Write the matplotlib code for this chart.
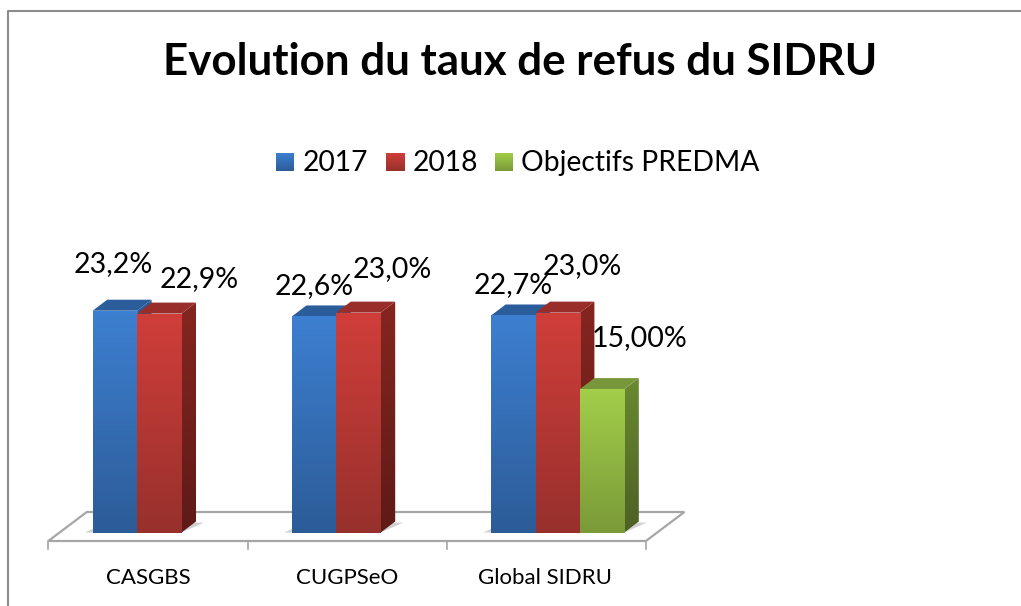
import numpy as np
import matplotlib
matplotlib.use("Agg")
import matplotlib.pyplot as plt
from matplotlib.colors import LinearSegmentedColormap
from matplotlib.patches import Polygon

plt.rcParams["font.family"] = ["Lato", "DejaVu Sans"]

TITLE = "Evolution du taux de refus du SIDRU"
CATEGORIES = ["CASGBS", "CUGPSeO", "Global SIDRU"]
SERIES = ["2017", "2018", "Objectifs PREDMA"]
VALUES_2017 = [23.2, 22.6, 22.7]
VALUES_2018 = [22.9, 23.0, 23.0]
VALUES_OBJ = [None, None, 15.0]
LABELS_2017 = ["23,2%", "22,6%", "22,7%"]
LABELS_2018 = ["22,9%", "23,0%", "23,0%"]
LABELS_OBJ = [None, None, "15,00%"]

# front (top, bottom), side (top, bottom), top face
COLORS = [
    ("#3d7fd0", "#2c5c98", "#2b5d9b"),
    ("#d03e3a", "#97302c", "#992d2a"),
    ("#a2ce4a", "#7a9a38", "#78963a"),
]
SIDES = [("#2b5d9b", "#1f4472"), ("#85261f", "#5e1a18"), ("#6a8a30", "#4c6024")]

W, H = 1021, 606
X0_PX, CAT_PX = 48.3, 199.2   # x axis origin / category width
Y0_PX, UNIT_PX = 532.5, 9.56  # baseline / pixels per percent
BAR_W = 44.4 / CAT_PX
DX, DY = 14.5 / CAT_PX, 11 / UNIT_PX  # 3D depth
GREY = "#a6a6a6"

# data labels were moved by hand in the original, so offsets per label (px)
LABEL_DX = [[-2, 0, 0], [39.5, 34, 25], [None, None, 37.5]]
LABEL_DY = [[46.7, 30.4, 30.5], [34.3, 43.6, 46.6], [None, None, 51]]


def gradient(ax, c_top, c_bot, extent, clip=None, zorder=3):
    cmap = LinearSegmentedColormap.from_list("g", [c_top, c_bot])
    im = ax.imshow(np.linspace(0, 1, 128).reshape(-1, 1), cmap=cmap, aspect="auto",
                   extent=extent, origin="upper", zorder=zorder, interpolation="bilinear")
    if clip is not None:
        im.set_clip_path(clip)
    return im


def bar3d(ax, x, val, idx):
    top, bot, roof = COLORS[idx]
    side_top, side_bot = SIDES[idx]
    z = 3 + idx * 0.1
    # shadow on the floor
    ax.add_patch(Polygon([(x - 0.04, 0), (x + BAR_W, 0), (x + BAR_W + DX + 0.04, DY * 0.9),
                          (x + DX, DY * 0.9)], fc="#d0d0d0", ec="none", zorder=2))
    gradient(ax, top, bot, (x, x + BAR_W, 0, val), zorder=z + 0.02)
    side = Polygon([(x + BAR_W, 0), (x + BAR_W + DX, DY), (x + BAR_W + DX, val + DY),
                    (x + BAR_W, val)], fc="none", ec="none", zorder=z)
    ax.add_patch(side)
    gradient(ax, side_top, side_bot, (x + BAR_W, x + BAR_W + DX, 0, val + DY), clip=side, zorder=z)
    ax.add_patch(Polygon([(x, val), (x + DX, val + DY), (x + BAR_W + DX, val + DY),
                          (x + BAR_W, val)], fc=roof, ec="none", zorder=z + 0.01))


fig = plt.figure(figsize=(W / 100, H / 100), dpi=100)
ax = fig.add_axes([0, 0, 1, 1])
ax.set_axis_off()
xlim = (-X0_PX / CAT_PX, (W - X0_PX) / CAT_PX)
ylim = (-(H - Y0_PX) / UNIT_PX, Y0_PX / UNIT_PX)

# floor
fy, by = -8.5 / UNIT_PX, 20.5 / UNIT_PX
fdx = 38.5 / CAT_PX
ax.add_patch(Polygon([(0, fy), (3, fy), (3 + fdx, by), (fdx, by)], closed=True,
                     fc="white", ec=GREY, lw=1.6, zorder=1))
for i in range(4):
    ax.plot([i, i], [fy, fy - 7.5 / UNIT_PX], color=GREY, lw=1.2, zorder=1)

all_vals = [VALUES_2017, VALUES_2018, VALUES_OBJ]
all_labs = [LABELS_2017, LABELS_2018, LABELS_OBJ]
for s in range(3):
    for c in range(3):
        v = all_vals[s][c]
        if v is None:
            continue
        x = c + BAR_W * (1 + s)
        bar3d(ax, x, v, s)
        ax.text(x + BAR_W / 2 + LABEL_DX[s][c] / CAT_PX, v + LABEL_DY[s][c] / UNIT_PX, all_labs[s][c],
                fontsize=20.5, ha="center", va="center", color="black", zorder=6)

CAT_LABEL_DX = [0, -0.3, -1.5]
for i, name in enumerate(CATEGORIES):
    ax.text(i + 0.5 + CAT_LABEL_DX[i] / CAT_PX, -46 / UNIT_PX, name, fontsize=16,
            ha="center", va="center", color="black")

# chart frame: left and top edges only, the picture is cropped on the others
ax.plot([8 / CAT_PX + xlim[0], 8 / CAT_PX + xlim[0], xlim[1]],
        [ylim[0], ylim[1] - 10.5 / UNIT_PX, ylim[1] - 10.5 / UNIT_PX],
        color="#8c8c8c", lw=1.5, zorder=0)

ax.text(520 / CAT_PX + xlim[0], ylim[1] - 62 / UNIT_PX, TITLE, fontsize=31.6, fontweight="bold",
        ha="center", va="center")

# legend
LEG_BOX = [276, 386, 495]
LEG_TXT = [303, 413, 521]
for s in range(3):
    x0 = LEG_BOX[s] / CAT_PX + xlim[0]
    gradient(ax, COLORS[s][0], COLORS[s][1],
             (x0, x0 + 18 / CAT_PX, ylim[1] - 171 / UNIT_PX, ylim[1] - 153 / UNIT_PX), zorder=5)
    ax.text(LEG_TXT[s] / CAT_PX + xlim[0], ylim[1] - 163 / UNIT_PX, SERIES[s], fontsize=20.3,
            ha="left", va="center", color="black")

ax.set_xlim(xlim)
ax.set_ylim(ylim)
fig.savefig("out.png", dpi=100)
